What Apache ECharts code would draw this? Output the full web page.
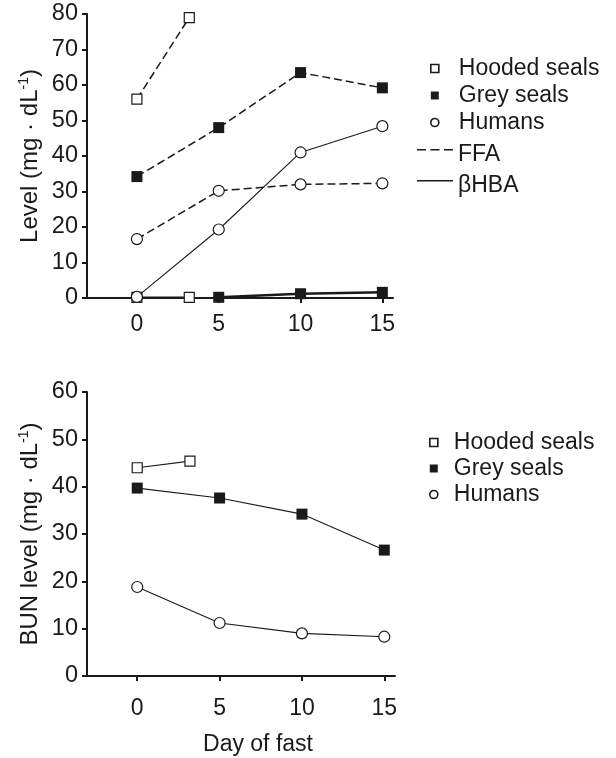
<!DOCTYPE html>
<html>
<head>
<meta charset="utf-8">
<script src="https://cdn.jsdelivr.net/npm/echarts@6/dist/echarts.min.js"></script>
<style>
  html, body { margin: 0; padding: 0; background: #fff; }
  #chart { width: 616px; height: 758px; }
</style>
</head>
<body>
<div id="chart"></div>
<script>
// Days of fasting
const days = [0, 5, 10, 15];
const hoodedDays = [0, 3.2];
const greyHBADays = [5, 10, 15];
const dayTicks = [0, 5, 10, 15];

// Upper panel: plasma FFA (dashed) and βHBA (solid), mg/dL
const hoodedFFA = [56, 79];
const hoodedHBA = [0.2, 0.2];
const greyFFA = [34.2, 48, 63.5, 59.2];
const greyHBA = [0.2, 1.2, 1.6];
const humanFFA = [16.6, 30.2, 32, 32.3];
const humanHBA = [0.3, 19.3, 41, 48.4];

// Lower panel: blood urea nitrogen, mg/dL
const hoodedBUN = [44, 45.4];
const greyBUN = [39.7, 37.6, 34.2, 26.6];
const humanBUN = [18.8, 11.2, 9.0, 8.3];

const speciesNames = ['Hooded seals', 'Grey seals', 'Humans'];
const lineNames = ['FFA', 'βHBA'];

const INK = '#1a1a1a';
const FONT = '"Liberation Sans", Arial, Helvetica, sans-serif';

const zip = (xs, ys) => xs.map((x, i) => [x, ys[i]]);

const openSquare = { symbol: 'rect', symbolSize: 10, itemStyle: { color: '#fff', borderColor: INK, borderWidth: 1.2 } };
const filledSquare = { symbol: 'rect', symbolSize: 11, itemStyle: { color: INK, borderColor: INK, borderWidth: 0 } };
const openCircle = { symbol: 'circle', symbolSize: 11, itemStyle: { color: '#fff', borderColor: INK, borderWidth: 1.2 } };

const dashed = { color: INK, width: 1.5, type: [8, 4] };
const solid = { color: INK, width: 1.1, type: 'solid' };

function series(name, grid, data, marker, lineStyle, z) {
  return Object.assign({
    name: name,
    type: 'line',
    xAxisIndex: grid,
    yAxisIndex: grid,
    data: data,
    lineStyle: lineStyle,
    showSymbol: true,
    animation: false,
    z: z || 2
  }, marker);
}

function xAxisFor(grid, labelMargin, extra) {
  return Object.assign({
    type: 'value',
    gridIndex: grid,
    min: -3.05,
    max: 15.65,
    splitLine: { show: false },
    axisLine: { onZero: false, lineStyle: { color: INK, width: 2 } },
    axisTick: { customValues: dayTicks, length: 5, lineStyle: { color: INK, width: 2 } },
    axisLabel: { customValues: dayTicks, fontSize: 23, fontFamily: FONT, color: INK, margin: labelMargin }
  }, extra || {});
}

function yAxisFor(grid, max, title) {
  return {
    type: 'value',
    gridIndex: grid,
    min: 0,
    max: max,
    interval: 10,
    splitLine: { show: false },
    axisLine: { show: true, onZero: false, lineStyle: { color: INK, width: 2 } },
    axisTick: { show: true, length: 5, lineStyle: { color: INK, width: 2 } },
    axisLabel: { fontSize: 23.5, fontFamily: FONT, color: INK, margin: 9 },
    name: '{a|' + title + ' (mg · dL}{s|-1}{a|)}',
    nameLocation: 'middle',
    nameGap: 43,
    nameTextStyle: {
      fontFamily: FONT, color: INK, fontSize: 24,
      rich: {
        a: { fontSize: 24, fontFamily: FONT, color: INK, lineHeight: 27 },
        s: { fontSize: 14, fontFamily: FONT, color: INK, verticalAlign: 'top', lineHeight: 27 }
      }
    }
  };
}

const legendText = { fontSize: 23, fontFamily: FONT, color: INK };
const markerLegendItems = [
  { name: 'Hooded seals', icon: 'path://M0,0h10v10h-10z', itemStyle: { color: '#fff', borderColor: INK, borderWidth: 1.6 } },
  { name: 'Grey seals', icon: 'path://M0,0h10v10h-10z', itemStyle: { color: INK, borderColor: INK, borderWidth: 0 } },
  { name: 'Humans', icon: 'circle', itemStyle: { color: '#fff', borderColor: INK, borderWidth: 1.6 } }
];

// Line keys: stroke sits near the top of an 11px-tall icon box so it lines up with the cap height
const dashIcon = 'path://M0,0h9v1.5h-9z M13.5,0h9v1.5h-9z M27,0h9v1.5h-9z M0,11h0.01v0.01h-0.01z';
const solidIcon = 'path://M0,0h36v1.5h-36z M0,11h0.01v0.01h-0.01z';

const option = {
  backgroundColor: '#fff',
  animation: false,
  grid: [
    { left: 87, top: 14, width: 306, height: 284 },
    { left: 87, top: 392, width: 308, height: 284 }
  ],
  xAxis: [
    xAxisFor(0, 15),
    xAxisFor(1, 21, {
      name: 'Day of fast',
      nameLocation: 'middle',
      nameGap: 57,
      nameTextStyle: { fontSize: 23, fontFamily: FONT, color: INK, padding: [0, 0, 0, 34] }
    })
  ],
  yAxis: [
    yAxisFor(0, 80, 'Level'),
    yAxisFor(1, 60, 'BUN level')
  ],
  legend: [
    {
      orient: 'vertical', left: 430, top: 57, padding: 0, itemGap: 4,
      itemWidth: 38, itemHeight: 8, selectedMode: false,
      textStyle: legendText,
      data: markerLegendItems
    },
    {
      orient: 'vertical', left: 417, top: 143, padding: 0, itemGap: 8,
      itemWidth: 36, itemHeight: 11, selectedMode: false,
      textStyle: legendText,
      data: [
        { name: lineNames[0], icon: dashIcon, itemStyle: { color: INK, borderWidth: 0 } },
        { name: lineNames[1], icon: solidIcon, itemStyle: { color: INK, borderWidth: 0 } }
      ]
    },
    {
      orient: 'vertical', left: 429, top: 431, padding: 0, itemGap: 3,
      itemWidth: 30, itemHeight: 8, selectedMode: false,
      textStyle: legendText,
      data: markerLegendItems
    }
  ],
  series: [
    // upper panel, FFA
    series(speciesNames[0], 0, zip(hoodedDays, hoodedFFA), openSquare, dashed),
    series(speciesNames[1], 0, zip(days, greyFFA), filledSquare, dashed),
    series(speciesNames[2], 0, zip(days, humanFFA), openCircle, dashed, 3),
    // upper panel, βHBA
    series(speciesNames[0], 0, zip(hoodedDays, hoodedHBA), openSquare, { color: INK, width: 1.5 }),
    series(speciesNames[1], 0, zip(greyHBADays, greyHBA), filledSquare, { color: INK, width: 2.5 }),
    series(speciesNames[2], 0, zip(days, humanHBA), openCircle, solid, 3),
    // line-style keys
    { name: lineNames[0], type: 'line', xAxisIndex: 0, yAxisIndex: 0, data: [], lineStyle: dashed },
    { name: lineNames[1], type: 'line', xAxisIndex: 0, yAxisIndex: 0, data: [], lineStyle: solid },
    // lower panel, BUN
    series(speciesNames[0], 1, zip(hoodedDays, hoodedBUN), openSquare, solid),
    series(speciesNames[1], 1, zip(days, greyBUN), filledSquare, solid),
    series(speciesNames[2], 1, zip(days, humanBUN), openCircle, solid, 3)
  ]
};

const chart = echarts.init(document.getElementById('chart'), null, { renderer: 'canvas' });
chart.setOption(option);
</script>
</body>
</html>
